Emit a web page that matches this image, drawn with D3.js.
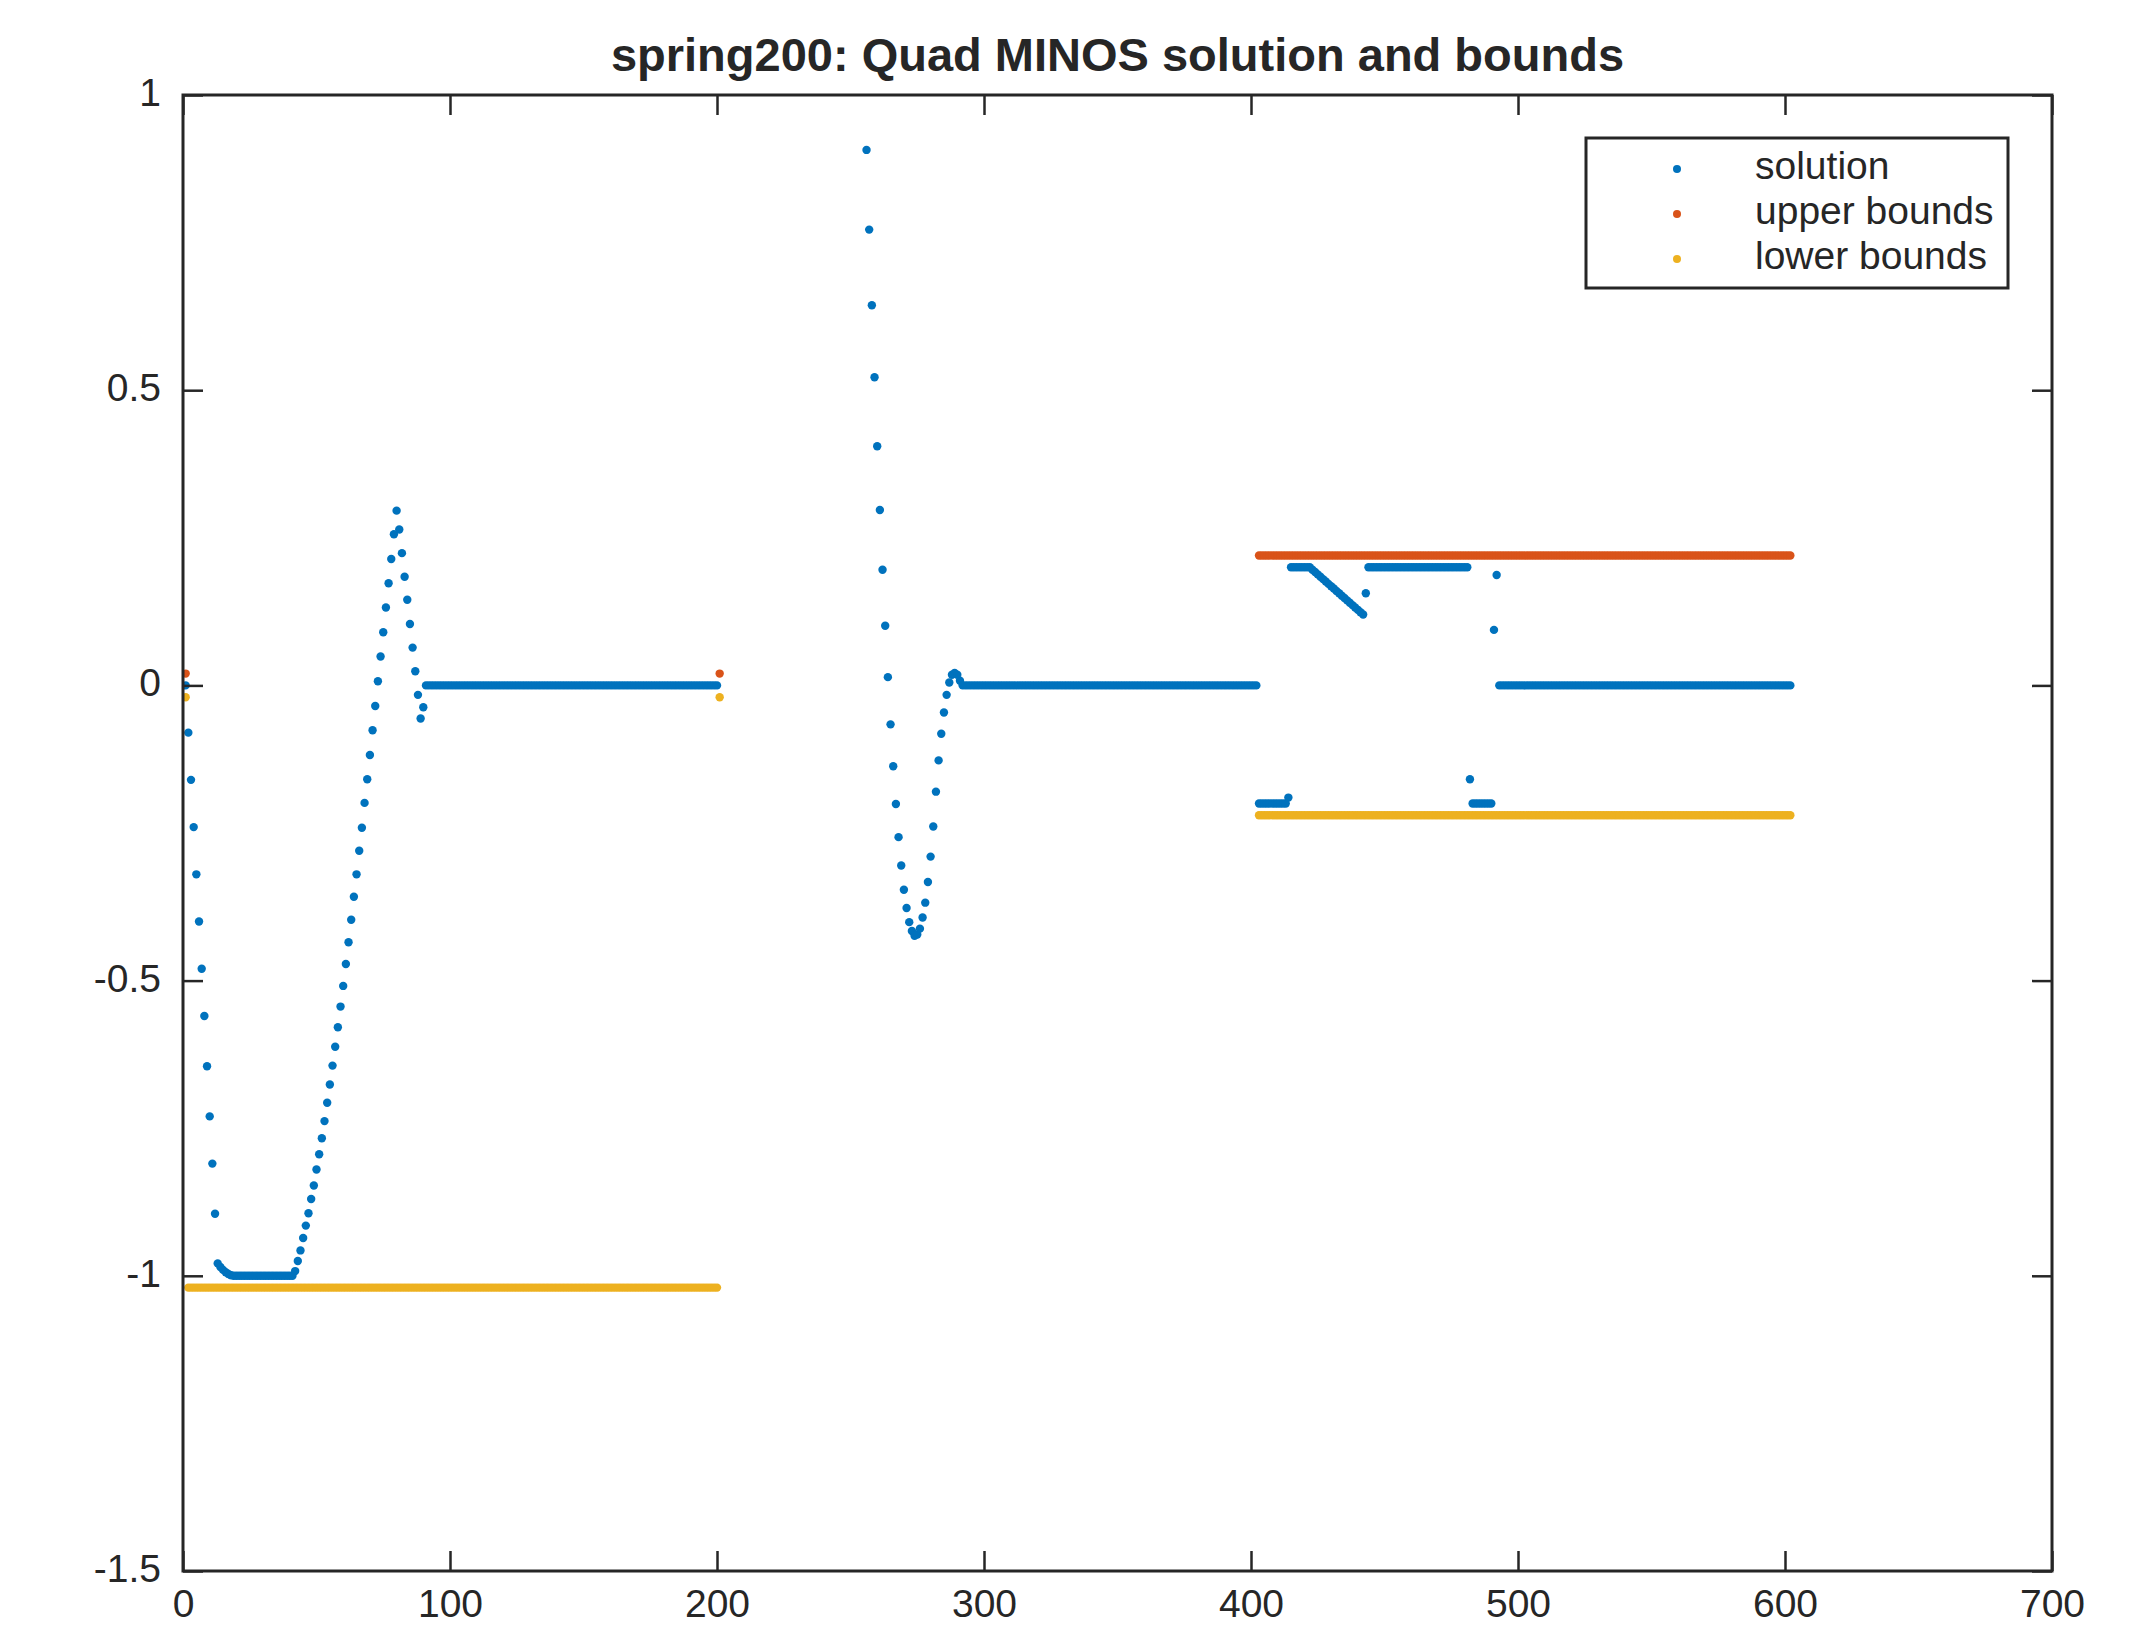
<!DOCTYPE html>
<html>
<head>
<meta charset="utf-8">
<script src="https://cdn.jsdelivr.net/npm/d3@7"></script>
<style>
  body { margin: 0; background: #fff; }
  text { font-family: "Liberation Sans", Arial, Helvetica, sans-serif; fill: #262626; }
</style>
</head>
<body>
<script>
const width = 2154;
const height = 1626;
const margin = { left: 183, right: 102, top: 95, bottom: 55 };

// x ticks / y ticks
const xTicks = [0, 100, 200, 300, 400, 500, 600, 700];
const yTicks = [-1.5, -1, -0.5, 0, 0.5, 1];
const yTickLabels = ["-1.5", "-1", "-0.5", "0", "0.5", "1"];

// solution, indices 1..200
const solutionFrom1 = [
  0, -0.08, -0.16, -0.24, -0.32, -0.4, -0.48, -0.56, -0.645, -0.73,
  -0.81, -0.895, -0.979, -0.985, -0.99, -0.994, -0.997, -0.999,
  -1, -1, -1, -1, -1, -1, -1, -1, -1, -1,
  -1, -1, -1, -1, -1, -1, -1, -1, -1, -1,
  -1, -1, -1,
  -0.992, -0.975, -0.957, -0.936, -0.915, -0.894, -0.87, -0.847, -0.82, -0.794,
  -0.767, -0.738, -0.707, -0.676, -0.644, -0.612, -0.579, -0.544, -0.509, -0.472,
  -0.435, -0.397, -0.358, -0.32, -0.28, -0.241, -0.199, -0.159, -0.118, -0.076,
  -0.035, 0.007, 0.049, 0.09, 0.132, 0.173, 0.214, 0.256, 0.296,
  0.264, 0.224, 0.184, 0.145, 0.104, 0.064, 0.024, -0.016, -0.056, -0.037,
  0, 0, 0, 0, 0, 0, 0, 0, 0, 0,
  0, 0, 0, 0, 0, 0, 0, 0, 0, 0,
  0, 0, 0, 0, 0, 0, 0, 0, 0, 0,
  0, 0, 0, 0, 0, 0, 0, 0, 0, 0,
  0, 0, 0, 0, 0, 0, 0, 0, 0, 0,
  0, 0, 0, 0, 0, 0, 0, 0, 0, 0,
  0, 0, 0, 0, 0, 0, 0, 0, 0, 0,
  0, 0, 0, 0, 0, 0, 0, 0, 0, 0,
  0, 0, 0, 0, 0, 0, 0, 0, 0, 0,
  0, 0, 0, 0, 0, 0, 0, 0, 0, 0,
  0, 0, 0, 0, 0, 0, 0, 0, 0, 0
];

// solution, indices 256..602 (202..255 lie above the axes)
const solutionFrom256 = [
  0.907, 0.772, 0.644, 0.522, 0.405, 0.297, 0.196, 0.101, 0.014, -0.066,
  -0.137, -0.201, -0.257, -0.305, -0.346, -0.377, -0.401, -0.416, -0.424, -0.422,
  -0.412, -0.393, -0.368, -0.333, -0.29, -0.239, -0.18, -0.127, -0.082, -0.046,
  -0.016, 0.005, 0.018, 0.021, 0.018, 0.008,
  0, 0, 0, 0, 0, 0, 0, 0, 0, 0,
  0, 0, 0, 0, 0, 0, 0, 0, 0, 0,
  0, 0, 0, 0, 0, 0, 0, 0, 0, 0,
  0, 0, 0, 0, 0, 0, 0, 0, 0, 0,
  0, 0, 0, 0, 0, 0, 0, 0, 0, 0,
  0, 0, 0, 0, 0, 0, 0, 0, 0, 0,
  0, 0, 0, 0, 0, 0, 0, 0, 0, 0,
  0, 0, 0, 0, 0, 0, 0, 0, 0, 0,
  0, 0, 0, 0, 0, 0, 0, 0, 0, 0,
  0, 0, 0, 0, 0, 0, 0, 0, 0, 0,
  0, 0, 0, 0, 0, 0, 0, 0, 0, 0,
  0,
  -0.2, -0.2, -0.2, -0.2, -0.2, -0.2, -0.2, -0.2, -0.2, -0.2,
  -0.2, -0.19,
  0.2, 0.2, 0.2, 0.2, 0.2, 0.2, 0.2, 0.2,
  0.196, 0.192, 0.188, 0.184, 0.18, 0.176, 0.172, 0.168, 0.164, 0.16,
  0.156, 0.152, 0.148, 0.144, 0.14, 0.136, 0.132, 0.128, 0.124, 0.12,
  0.156,
  0.2, 0.2, 0.2, 0.2, 0.2, 0.2, 0.2, 0.2, 0.2, 0.2,
  0.2, 0.2, 0.2, 0.2, 0.2, 0.2, 0.2, 0.2, 0.2, 0.2,
  0.2, 0.2, 0.2, 0.2, 0.2, 0.2, 0.2, 0.2, 0.2, 0.2,
  0.2, 0.2, 0.2, 0.2, 0.2, 0.2, 0.2, 0.2,
  -0.159,
  -0.2, -0.2, -0.2, -0.2, -0.2, -0.2, -0.2, -0.2,
  0.094, 0.187,
  0, 0, 0, 0, 0, 0, 0, 0, 0, 0,
  0, 0, 0, 0, 0, 0, 0, 0, 0, 0,
  0, 0, 0, 0, 0, 0, 0, 0, 0, 0,
  0, 0, 0, 0, 0, 0, 0, 0, 0, 0,
  0, 0, 0, 0, 0, 0, 0, 0, 0, 0,
  0, 0, 0, 0, 0, 0, 0, 0, 0, 0,
  0, 0, 0, 0, 0, 0, 0, 0, 0, 0,
  0, 0, 0, 0, 0, 0, 0, 0, 0, 0,
  0, 0, 0, 0, 0, 0, 0, 0, 0, 0,
  0, 0, 0, 0, 0, 0, 0, 0, 0, 0,
  0, 0, 0, 0, 0, 0, 0, 0, 0, 0
];

// upper bounds
const upperFrom1 = [0.02];
const upperFrom201 = [0.02];
const upperFrom403 = [
  0.22, 0.22, 0.22, 0.22, 0.22, 0.22, 0.22, 0.22, 0.22, 0.22, 0.22, 0.22, 0.22, 0.22, 0.22, 0.22, 0.22, 0.22, 0.22, 0.22,
  0.22, 0.22, 0.22, 0.22, 0.22, 0.22, 0.22, 0.22, 0.22, 0.22, 0.22, 0.22, 0.22, 0.22, 0.22, 0.22, 0.22, 0.22, 0.22, 0.22,
  0.22, 0.22, 0.22, 0.22, 0.22, 0.22, 0.22, 0.22, 0.22, 0.22, 0.22, 0.22, 0.22, 0.22, 0.22, 0.22, 0.22, 0.22, 0.22, 0.22,
  0.22, 0.22, 0.22, 0.22, 0.22, 0.22, 0.22, 0.22, 0.22, 0.22, 0.22, 0.22, 0.22, 0.22, 0.22, 0.22, 0.22, 0.22, 0.22, 0.22,
  0.22, 0.22, 0.22, 0.22, 0.22, 0.22, 0.22, 0.22, 0.22, 0.22, 0.22, 0.22, 0.22, 0.22, 0.22, 0.22, 0.22, 0.22, 0.22, 0.22,
  0.22, 0.22, 0.22, 0.22, 0.22, 0.22, 0.22, 0.22, 0.22, 0.22, 0.22, 0.22, 0.22, 0.22, 0.22, 0.22, 0.22, 0.22, 0.22, 0.22,
  0.22, 0.22, 0.22, 0.22, 0.22, 0.22, 0.22, 0.22, 0.22, 0.22, 0.22, 0.22, 0.22, 0.22, 0.22, 0.22, 0.22, 0.22, 0.22, 0.22,
  0.22, 0.22, 0.22, 0.22, 0.22, 0.22, 0.22, 0.22, 0.22, 0.22, 0.22, 0.22, 0.22, 0.22, 0.22, 0.22, 0.22, 0.22, 0.22, 0.22,
  0.22, 0.22, 0.22, 0.22, 0.22, 0.22, 0.22, 0.22, 0.22, 0.22, 0.22, 0.22, 0.22, 0.22, 0.22, 0.22, 0.22, 0.22, 0.22, 0.22,
  0.22, 0.22, 0.22, 0.22, 0.22, 0.22, 0.22, 0.22, 0.22, 0.22, 0.22, 0.22, 0.22, 0.22, 0.22, 0.22, 0.22, 0.22, 0.22, 0.22
];

// lower bounds
const lowerFrom1 = [
  -0.02,
  -1.02, -1.02, -1.02, -1.02, -1.02, -1.02, -1.02, -1.02, -1.02, -1.02, -1.02, -1.02, -1.02, -1.02, -1.02, -1.02, -1.02, -1.02, -1.02, -1.02,
  -1.02, -1.02, -1.02, -1.02, -1.02, -1.02, -1.02, -1.02, -1.02, -1.02, -1.02, -1.02, -1.02, -1.02, -1.02, -1.02, -1.02, -1.02, -1.02, -1.02,
  -1.02, -1.02, -1.02, -1.02, -1.02, -1.02, -1.02, -1.02, -1.02, -1.02, -1.02, -1.02, -1.02, -1.02, -1.02, -1.02, -1.02, -1.02, -1.02, -1.02,
  -1.02, -1.02, -1.02, -1.02, -1.02, -1.02, -1.02, -1.02, -1.02, -1.02, -1.02, -1.02, -1.02, -1.02, -1.02, -1.02, -1.02, -1.02, -1.02, -1.02,
  -1.02, -1.02, -1.02, -1.02, -1.02, -1.02, -1.02, -1.02, -1.02, -1.02, -1.02, -1.02, -1.02, -1.02, -1.02, -1.02, -1.02, -1.02, -1.02, -1.02,
  -1.02, -1.02, -1.02, -1.02, -1.02, -1.02, -1.02, -1.02, -1.02, -1.02, -1.02, -1.02, -1.02, -1.02, -1.02, -1.02, -1.02, -1.02, -1.02, -1.02,
  -1.02, -1.02, -1.02, -1.02, -1.02, -1.02, -1.02, -1.02, -1.02, -1.02, -1.02, -1.02, -1.02, -1.02, -1.02, -1.02, -1.02, -1.02, -1.02, -1.02,
  -1.02, -1.02, -1.02, -1.02, -1.02, -1.02, -1.02, -1.02, -1.02, -1.02, -1.02, -1.02, -1.02, -1.02, -1.02, -1.02, -1.02, -1.02, -1.02, -1.02,
  -1.02, -1.02, -1.02, -1.02, -1.02, -1.02, -1.02, -1.02, -1.02, -1.02, -1.02, -1.02, -1.02, -1.02, -1.02, -1.02, -1.02, -1.02, -1.02, -1.02,
  -1.02, -1.02, -1.02, -1.02, -1.02, -1.02, -1.02, -1.02, -1.02, -1.02, -1.02, -1.02, -1.02, -1.02, -1.02, -1.02, -1.02, -1.02, -1.02
];
const lowerFrom201 = [-0.02];
const lowerFrom403 = [
  -0.22, -0.22, -0.22, -0.22, -0.22, -0.22, -0.22, -0.22, -0.22, -0.22, -0.22, -0.22, -0.22, -0.22, -0.22, -0.22, -0.22, -0.22, -0.22, -0.22,
  -0.22, -0.22, -0.22, -0.22, -0.22, -0.22, -0.22, -0.22, -0.22, -0.22, -0.22, -0.22, -0.22, -0.22, -0.22, -0.22, -0.22, -0.22, -0.22, -0.22,
  -0.22, -0.22, -0.22, -0.22, -0.22, -0.22, -0.22, -0.22, -0.22, -0.22, -0.22, -0.22, -0.22, -0.22, -0.22, -0.22, -0.22, -0.22, -0.22, -0.22,
  -0.22, -0.22, -0.22, -0.22, -0.22, -0.22, -0.22, -0.22, -0.22, -0.22, -0.22, -0.22, -0.22, -0.22, -0.22, -0.22, -0.22, -0.22, -0.22, -0.22,
  -0.22, -0.22, -0.22, -0.22, -0.22, -0.22, -0.22, -0.22, -0.22, -0.22, -0.22, -0.22, -0.22, -0.22, -0.22, -0.22, -0.22, -0.22, -0.22, -0.22,
  -0.22, -0.22, -0.22, -0.22, -0.22, -0.22, -0.22, -0.22, -0.22, -0.22, -0.22, -0.22, -0.22, -0.22, -0.22, -0.22, -0.22, -0.22, -0.22, -0.22,
  -0.22, -0.22, -0.22, -0.22, -0.22, -0.22, -0.22, -0.22, -0.22, -0.22, -0.22, -0.22, -0.22, -0.22, -0.22, -0.22, -0.22, -0.22, -0.22, -0.22,
  -0.22, -0.22, -0.22, -0.22, -0.22, -0.22, -0.22, -0.22, -0.22, -0.22, -0.22, -0.22, -0.22, -0.22, -0.22, -0.22, -0.22, -0.22, -0.22, -0.22,
  -0.22, -0.22, -0.22, -0.22, -0.22, -0.22, -0.22, -0.22, -0.22, -0.22, -0.22, -0.22, -0.22, -0.22, -0.22, -0.22, -0.22, -0.22, -0.22, -0.22,
  -0.22, -0.22, -0.22, -0.22, -0.22, -0.22, -0.22, -0.22, -0.22, -0.22, -0.22, -0.22, -0.22, -0.22, -0.22, -0.22, -0.22, -0.22, -0.22, -0.22
];

const seriesNames = ["solution", "upper bounds", "lower bounds"];
const seriesColors = ["#0072BD", "#D95319", "#EDB120"];

// a block of consecutive indices starting at `start`
function block(start, values) {
  return values.map((v, k) => ({ x: start + k, y: v }));
}

const series = [
  block(1, solutionFrom1).concat(block(256, solutionFrom256)),
  block(1, upperFrom1).concat(block(201, upperFrom201), block(403, upperFrom403)),
  block(1, lowerFrom1).concat(block(201, lowerFrom201), block(403, lowerFrom403))
];

const svg = d3
  .select("body")
  .append("svg")
  .attr("width", width)
  .attr("height", height);

const xScale = d3
  .scaleLinear()
  .domain([0, 700])
  .range([margin.left, width - margin.right]);
const yScale = d3
  .scaleLinear()
  .domain([-1.5, 1])
  .range([height - margin.bottom, margin.top]);

svg
  .append("defs")
  .append("clipPath")
  .attr("id", "plot-clip")
  .append("rect")
  .attr("x", margin.left)
  .attr("y", margin.top)
  .attr("width", width - margin.left - margin.right)
  .attr("height", height - margin.top - margin.bottom);

// points
const plot = svg.append("g").attr("clip-path", "url(#plot-clip)");
series.forEach((pts, i) => {
  plot
    .append("g")
    .attr("fill", seriesColors[i])
    .selectAll("circle")
    .data(pts)
    .enter()
    .append("circle")
    .attr("cx", (d) => xScale(d.x))
    .attr("cy", (d) => yScale(d.y))
    .attr("r", 4.2);
});

// axes, ticks pointing inwards on all four sides
const tickLen = 20;
const fontSize = 39;

function styleAxis(g) {
  g.select(".domain").remove();
  g.selectAll(".tick line").attr("stroke", "#262626").attr("stroke-width", 2.5);
  g.selectAll(".tick text")
    .style("font-size", fontSize + "px")
    .attr("fill", "#262626");
}

svg
  .append("g")
  .attr("transform", `translate(0,${height - margin.bottom})`)
  .call(d3.axisBottom(xScale).tickValues(xTicks).tickSizeInner(-tickLen).tickSizeOuter(0).tickPadding(18))
  .call(styleAxis);

svg
  .append("g")
  .attr("transform", `translate(${margin.left},0)`)
  .call(
    d3
      .axisLeft(yScale)
      .tickValues(yTicks)
      .tickFormat((d, i) => yTickLabels[i])
      .tickSizeInner(-tickLen)
      .tickSizeOuter(0)
      .tickPadding(22)
  )
  .call(styleAxis)
  .call((g) => g.selectAll(".tick text").attr("dy", "0.27em"));

svg
  .append("g")
  .attr("transform", `translate(0,${margin.top})`)
  .call(d3.axisTop(xScale).tickValues(xTicks).tickFormat("").tickSizeInner(-tickLen).tickSizeOuter(0))
  .call(styleAxis);

svg
  .append("g")
  .attr("transform", `translate(${width - margin.right},0)`)
  .call(d3.axisRight(yScale).tickValues(yTicks).tickFormat("").tickSizeInner(-tickLen).tickSizeOuter(0))
  .call(styleAxis);

svg
  .append("rect")
  .attr("x", margin.left)
  .attr("y", margin.top)
  .attr("width", width - margin.left - margin.right)
  .attr("height", height - margin.top - margin.bottom)
  .attr("fill", "none")
  .attr("stroke", "#262626")
  .attr("stroke-width", 3);

// title
svg
  .append("text")
  .attr("x", (margin.left + width - margin.right) / 2)
  .attr("y", 71)
  .attr("text-anchor", "middle")
  .style("font-size", "47px")
  .style("font-weight", "bold")
  .attr("fill", "#000")
  .text("spring200: Quad MINOS solution and bounds");

// legend
const legend = svg.append("g").attr("transform", "translate(1586,138)");
legend
  .append("rect")
  .attr("width", 422)
  .attr("height", 150)
  .attr("fill", "#fff")
  .attr("stroke", "#262626")
  .attr("stroke-width", 3);

const rows = legend
  .selectAll("g.row")
  .data(seriesNames)
  .enter()
  .append("g")
  .attr("class", "row")
  .attr("transform", (d, i) => `translate(0,${31 + i * 45})`);

rows
  .append("circle")
  .attr("cx", 91)
  .attr("r", 4)
  .attr("fill", (d, i) => seriesColors[i]);

rows
  .append("text")
  .attr("x", 169)
  .attr("y", 10)
  .style("font-size", fontSize + "px")
  .attr("fill", "#000")
  .text((d) => d);
</script>
</body>
</html>
